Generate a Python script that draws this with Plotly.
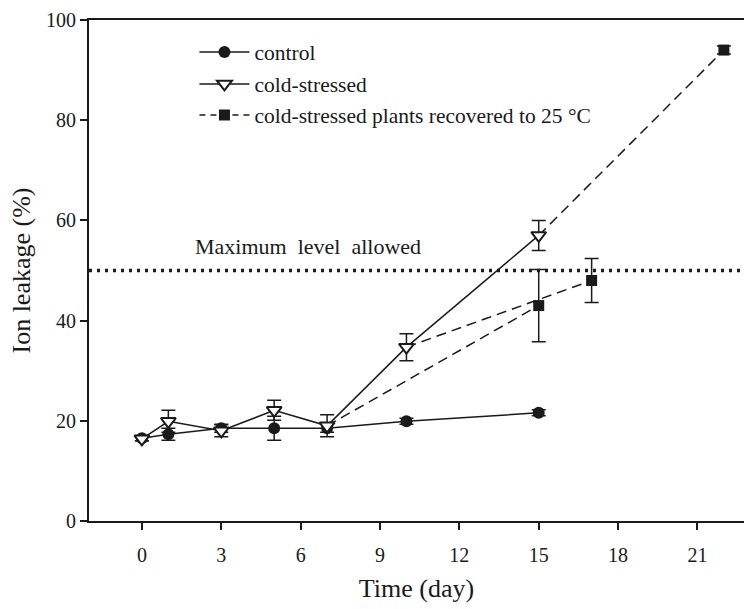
import plotly.graph_objects as go

# ---- data ----
days_control = [0, 1, 3, 5, 7, 10, 15]
leak_control = [16.5, 17.3, 18.5, 18.5, 18.5, 19.9, 21.6]
err_control = [0.5, 1.2, 0.8, 2.4, 0.8, 0.6, 0.6]

days_cold = [0, 1, 3, 5, 7, 10, 15]
leak_cold = [16.4, 19.9, 18.0, 22.1, 19.0, 34.7, 57.0]
err_cold = [0.4, 2.2, 1.2, 2.0, 2.2, 2.7, 3.0]

recovery_start_days = [7, 10, 15]
recovery_days = [15, 17, 22]
leak_recovered = [43.0, 48.0, 94.0]
err_recovered = [7.2, 4.4, 0.8]

max_level = 50
max_label = "Maximum  level  allowed"

xticks = [0, 3, 6, 9, 12, 15, 18, 21]
yticks = [0, 20, 40, 60, 80, 100]

FONT = "Times New Roman, Liberation Serif, serif"
BLACK = "#1a1a1a"

fig = go.Figure()

# recovery dashed segments (from cold-stressed point to recovered point)
seg_x, seg_y = [], []
for s, d, v in zip(recovery_start_days, recovery_days, leak_recovered):
    seg_x += [s, d, None]
    seg_y += [leak_cold[days_cold.index(s)], v, None]
fig.add_trace(go.Scatter(x=seg_x, y=seg_y, mode="lines", showlegend=False,
                         line=dict(color=BLACK, width=1.5, dash="10px,6px")))

fig.add_trace(go.Scatter(
    x=days_control, y=leak_control, mode="lines+markers", name="control",
    line=dict(color=BLACK, width=1.5),
    marker=dict(symbol="circle", size=12, color=BLACK),
    error_y=dict(type="data", array=err_control, color=BLACK, thickness=1.5, width=7),
    legend="legend"))

fig.add_trace(go.Scatter(
    x=days_cold, y=leak_cold, mode="lines+markers", name="cold-stressed",
    line=dict(color=BLACK, width=1.5),
    marker=dict(symbol="triangle-down", size=13, color="white",
                line=dict(color=BLACK, width=2)),
    error_y=dict(type="data", array=err_cold, color=BLACK, thickness=1.5, width=7),
    legend="legend2"))

fig.add_trace(go.Scatter(
    x=recovery_days, y=leak_recovered, mode="markers", showlegend=False,
    marker=dict(symbol="square", size=11, color=BLACK),
    error_y=dict(type="data", array=err_recovered, color=BLACK, thickness=1.5, width=7)))

# legend-only entry for recovered
fig.add_trace(go.Scatter(
    x=[None], y=[None], mode="lines+markers",
    name="cold-stressed plants recovered to 25 °C",
    line=dict(color=BLACK, width=1.5, dash="6px,5px"),
    marker=dict(symbol="square", size=11, color=BLACK),
    legend="legend3"))

fig.add_shape(type="line", xref="paper", x0=0, x1=1, yref="y", y0=max_level, y1=max_level,
              line=dict(color=BLACK, width=3.5, dash="3px,5px"))
fig.add_annotation(x=6.26, y=54.8, text=max_label, showarrow=False,
                   font=dict(family=FONT, size=22, color=BLACK))

leg_common = dict(xanchor="left", yanchor="middle", bgcolor="rgba(0,0,0,0)",
                  font=dict(family=FONT, size=21.5, color=BLACK), itemwidth=50)
LX = 0.161
fig.update_layout(
    width=744, height=609,
    margin=dict(l=89, r=0, t=20, b=88),
    plot_bgcolor="white", paper_bgcolor="white",
    font=dict(family=FONT, size=20, color=BLACK),
    legend=dict(x=LX, y=(521 - 52) / 501, **leg_common),
    legend2=dict(x=LX, y=(521 - 84) / 501, **leg_common),
    legend3=dict(x=LX, y=(521 - 115) / 501, **leg_common),
    xaxis=dict(range=[-2, 22.76], tickvals=xticks, ticks="outside", ticklen=7,
               tickwidth=1.5, tickcolor=BLACK, showline=True, linecolor=BLACK,
               linewidth=2, mirror=True, showgrid=False, zeroline=False,
               ticklabelstandoff=8,
               tickfont=dict(family=FONT, size=20, color=BLACK),
               title=dict(text="Time (day)", font=dict(family=FONT, size=26, color=BLACK),
                          standoff=14)),
    yaxis=dict(range=[0, 100], tickvals=yticks, ticks="outside", ticklen=7,
               tickwidth=1.5, tickcolor=BLACK, showline=True, linecolor=BLACK,
               linewidth=2, mirror=False, showgrid=False, zeroline=False,
               tickfont=dict(family=FONT, size=20, color=BLACK),
               title=dict(text="Ion leakage (%)", font=dict(family=FONT, size=26, color=BLACK),
                          standoff=8)),
)

fig.write_html("out.html")
